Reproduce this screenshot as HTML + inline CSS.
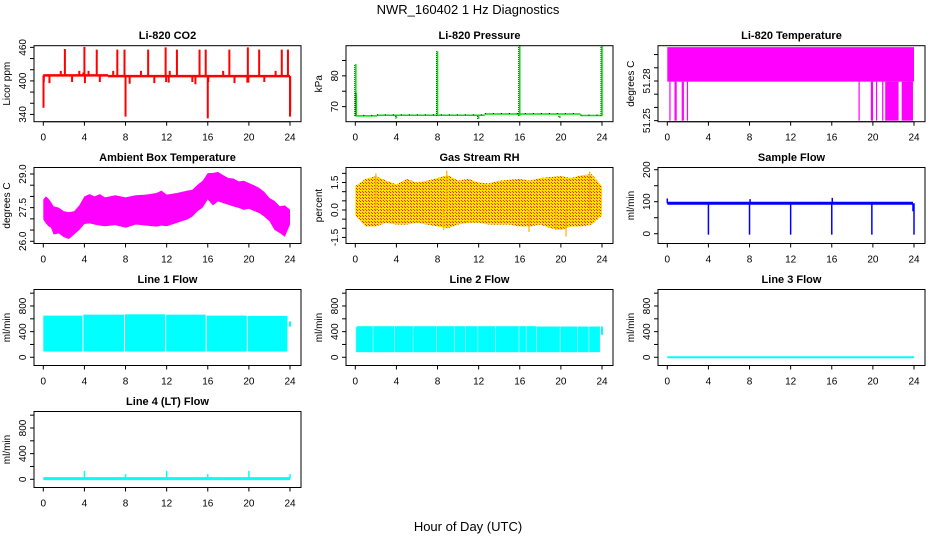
<!DOCTYPE html>
<html><head><meta charset="utf-8"><style>
html,body{margin:0;padding:0;background:#fff;}
svg{display:block;font-family:"Liberation Sans",sans-serif;}
</style></head><body>
<svg id="chart" width="936" height="540" viewBox="0 0 936 540" xmlns="http://www.w3.org/2000/svg">
<defs>
<pattern id="rhpat" width="3" height="3" patternUnits="userSpaceOnUse">
<rect width="3" height="3" fill="#ffe000"/><rect x="0" y="0" width="1" height="1" fill="#ff2000"/><rect x="2" y="2" width="1" height="1" fill="#ff3000"/>
</pattern>
</defs>
<text x="468" y="14" font-size="13" text-anchor="middle">NWR_160402 1 Hz Diagnostics</text>
<text x="468" y="531" font-size="13" text-anchor="middle">Hour of Day (UTC)</text>
</svg>
<script>
// ---- data ----
const hourTicks = [0,4,8,12,16,20,24];
// CO2
const co2BaseStart = [0, 6.3];
const co2BaseEnd = [6.3, 24];
const co2BaseVal = [410, 408.5];
const co2SpikeT = [0.02,0.05,2.1,4.0,3.9,5.2,7.2,7.9,8.0,10.2,11.9,11.95,13.0,15.2,15.8,16.0,16.05,18.1,19.9,19.85,21.0,23.2,23.8,24.0,24.02,1.7,2.8,3.5,4.4,5.5,6.8,9.5,10.8,12.3,14.5,17.5,18.6,21.5,22.6,0.6,4.05,8.4,12.2,14.8,19.95];
const co2SpikeV = [352,398,457,461,415,456,456,456,336,456,460,398,456,456,456,333,398,456,460,397,456,456,456,336,345,418,398,418,418,398,418,418,396,418,398,418,396,398,418,396,396,395,397,394,397];
// Pressure
const presBaseStart = [0, 2.1, 12.6, 21.9];
const presBaseEnd = [2.1, 12.6, 21.9, 24];
const presBaseVal = [67.0, 67.2, 67.6, 67.1];
const presSpikeT = [0.05,0.1,8.0,16.0,24.0,4.0,12.0,19.9];
const presSpikeV = [83.8,74.5,88.0,89.8,89.8,66.2,66.0,66.3];
// Li-820 temperature
const tempLow = 51.2795, tempHigh = 51.3056;
const tempDipStart = [0.2,0.7,0.8,1.4,1.5,1.9,18.6,19.8,19.9,20.3,20.9,21.2,22.8];
const tempDipEnd = [0.25,0.75,0.85,1.45,1.55,1.95,18.65,19.85,19.95,20.35,20.95,22.5,23.9];
const tempDipVal = 51.25;
// Ambient box temperature
const ambT = [0,0.25,0.5,0.75,1,1.5,2,2.5,3,3.5,4,4.5,5,5.5,6,7,8,9,10,11,11.5,12,13,14,14.5,15,15.5,16,16.5,17,17.5,18,18.5,19,19.5,20,20.5,21,21.5,22,22.5,23,23.5,24];
const ambHigh = [27.86,28.0,27.9,27.75,27.56,27.5,27.34,27.3,27.34,27.6,28.0,28.1,28.0,28.1,27.96,28.05,27.96,28.05,28.08,28.15,28.26,28.08,28.15,28.26,28.3,28.52,28.7,29.04,29.05,29.09,28.95,28.82,28.8,28.67,28.7,28.6,28.5,28.38,28.2,27.93,27.8,27.56,27.6,27.41];
const ambLow = [26.97,26.8,26.67,26.6,26.3,26.35,26.18,26.1,26.3,26.5,26.77,26.8,26.74,26.7,26.67,26.72,26.6,26.75,26.7,26.65,26.7,26.67,26.82,26.97,27.1,27.34,27.5,27.86,27.6,27.78,27.7,27.63,27.55,27.49,27.4,27.45,27.35,27.26,27.1,26.89,26.5,26.37,26.2,26.74];
// Gas stream RH
const rhT = [0,1,2,3,4,5,6,7,8,9,10,11,12,13,14,15,16,17,18,19,20,21,22,23,24];
const rhHigh = [1.3,1.7,1.85,1.6,1.4,1.7,1.5,1.6,1.75,1.9,1.6,1.7,1.5,1.45,1.6,1.65,1.7,1.6,1.75,1.8,1.85,1.75,1.9,1.95,1.3];
const rhLow = [-0.3,-0.9,-0.9,-0.7,-0.8,-0.8,-0.7,-0.8,-0.9,-1.0,-0.8,-0.7,-0.7,-0.8,-0.8,-0.8,-0.9,-0.9,-0.8,-1.0,-1.1,-0.9,-0.9,-0.8,-0.3];
const rhSpikeT = [2.0,8.9,22.8,20.5,16.9,8.6,19.5];
const rhSpikeV = [2.0,2.15,2.1,-1.45,-1.2,-1.1,-1.1];
// Sample flow
const sfBase = 95;
const sfSpikeT = [0.0,4.0,8.0,12.0,16.0,19.9,23.9,24.0,8.05,16.05];
const sfSpikeV = [110,-3,-3,-3,-3,-3,70,-3,108,112];
// Line 1 flow
const l1SegStart = [0.0,3.9,7.95,11.95,15.9,19.9];
const l1SegEnd = [3.8,7.85,11.85,15.8,19.8,23.75];
const l1High = [650,665,670,665,650,645];
const l1Low = [90,90,90,90,90,90];
const l1Stub = [24.0, 480, 560];
// Line 2 flow
const l2SegStart = [0.05,0.15,1.75,3.85,5.65,7.95,9.65,10.75,11.95,13.65,15.95,16.65,17.65,19.95,21.65,22.75];
const l2SegEnd = [0.1,1.7,3.8,5.6,7.9,9.6,10.7,11.9,13.6,15.9,16.6,17.6,19.9,21.6,22.7,23.8];
const l2High = [470,485,485,485,485,485,485,485,485,485,485,485,480,480,480,480];
const l2Low = [80,80,80,80,80,80,80,80,80,80,80,80,80,80,80,80];
const l2Stub = [24.0, 350, 480];
// Line 3 flow
const l3Val = 0;
// Line 4 flow
const l4Base = 10;
const l4SpikeT = [4.0,8.0,12.0,16.0,20.0,24.0];
const l4SpikeV = [130,80,130,80,130,80];

// ---- layout ----
const NS = "http://www.w3.org/2000/svg";
const svg = document.getElementById('chart');
const colLeft = [34,346,658], boxW = 267, rowTop = [45.7,167.5,289.5,411.5], boxH = 76;
function el(tag, attrs, parent){ const e=document.createElementNS(NS,tag); for(const k in attrs) e.setAttribute(k,attrs[k]); (parent||svg).appendChild(e); return e; }

function panel(c, r, name, title, ylab, ymin, ymax, ticks, labels){
  const L=colLeft[c], T=rowTop[r];
  const g = el('g',{});
  
  
  const x = t => L + 9.3 + t*(246.7/24);
  const y = v => T + (ymax - v)/(ymax - ymin)*boxH;
  const clip = el('clipPath',{id:'clip-'+name}, g);
  el('rect',{x:L,y:T,width:boxW,height:boxH},clip);
  const plot = el('g',{'clip-path':'url(#clip-'+name+')'}, g);
  
  
  const box = el('rect',{x:L,y:T,width:boxW,height:boxH,fill:'none',stroke:'#000','stroke-width':1}, g);
  
  
  const t1 = el('text',{x:L+boxW/2,y:T-6.5,'font-size':11,'font-weight':'bold','text-anchor':'middle'}, g);
  t1.textContent = title;
  
  
  const xa = el('g',{}, g);
  
  
  el('line',{x1:x(0),x2:x(24),y1:T+boxH,y2:T+boxH,stroke:'#000'}, xa);
  hourTicks.forEach(h=>{
    el('line',{x1:x(h),x2:x(h),y1:T+boxH,y2:T+boxH+4,stroke:'#000'}, xa);
    const tx = el('text',{x:x(h),y:T+boxH+19,'font-size':10,'text-anchor':'middle'}, xa);
    tx.textContent = h;
    
    
  });
  const ya = el('g',{}, g);
  
  
  ticks.forEach(v=>{ el('line',{x1:L-4,x2:L,y1:y(v),y2:y(v),stroke:'#000'}, ya); });
  labels.forEach(v=>{
    const yy=y(parseFloat(v));
    const tx = el('text',{x:L-8,y:yy,'font-size':10,'text-anchor':'middle',transform:'rotate(-90 '+(L-8)+' '+yy+')'}, ya);
    tx.textContent = v;
    
    
  });
  const yl = el('text',{x:L-24,y:T+boxH/2,'font-size':10,'text-anchor':'middle',transform:'rotate(-90 '+(L-24)+' '+(T+boxH/2)+')'}, g);
  yl.textContent = ylab;
  
  
  return {plot, x, y};
}
function range(a,b,s){ const o=[]; for(let v=a; v<=b+1e-9; v+=s) o.push(+v.toFixed(4)); return o; }

// CO2
(function(){
  const p = panel(0,0,'co2','Li-820 CO2','Licor ppm',327,463,range(340,460,20),['340','400','460']);
  co2BaseStart.forEach((s,i)=>{
    const ln = el('line',{x1:p.x(s),x2:p.x(co2BaseEnd[i]),y1:p.y(co2BaseVal[i]),y2:p.y(co2BaseVal[i]),stroke:'#f00','stroke-width':2.5}, p.plot);
    
    
  });
  co2SpikeT.forEach((t,i)=>{
    const b = t<6.3?co2BaseVal[0]:co2BaseVal[1];
    const ln = el('line',{x1:p.x(t),x2:p.x(t),y1:p.y(b),y2:p.y(co2SpikeV[i]),stroke:'#f00','stroke-width':2}, p.plot);
    
    
  });
})();
// Pressure
(function(){
  const p = panel(1,0,'pressure','Li-820 Pressure','kPa',65.1,89.8,range(70,85,5),['70','80']);
  presBaseStart.forEach((s,i)=>{
    const ln = el('line',{x1:p.x(s),x2:p.x(presBaseEnd[i]),y1:p.y(presBaseVal[i]),y2:p.y(presBaseVal[i]),stroke:'#0d0','stroke-width':1.5}, p.plot);
    
    
    const dl = el('line',{x1:p.x(s),x2:p.x(presBaseEnd[i]),y1:p.y(presBaseVal[i])-0.5,y2:p.y(presBaseVal[i])-0.5,stroke:'#000','stroke-width':1,'stroke-dasharray':'1 7'}, p.plot);
    
    
  });
  presSpikeT.forEach((t,i)=>{
    const b = presBaseVal[0];
    const d = el('line',{x1:p.x(t)-1,x2:p.x(t)-1,y1:p.y(b),y2:p.y(presSpikeV[i]),stroke:'#000','stroke-width':1,'stroke-dasharray':'1 1'}, p.plot);
    
    
    const ln = el('line',{x1:p.x(t),x2:p.x(t),y1:p.y(b),y2:p.y(presSpikeV[i]),stroke:'#0d0','stroke-width':1.5}, p.plot);
    
    
  });
})();
// Li-820 temperature
(function(){
  const p = panel(2,0,'li820-temp','Li-820 Temperature','degrees C',51.2492,51.3067,range(51.25,51.30,0.01),['51.25','51.28']);
  const r = el('rect',{x:p.x(0),y:p.y(tempHigh),width:p.x(24)-p.x(0),height:p.y(tempLow)-p.y(tempHigh),fill:'#f0f'}, p.plot);
  
  
  tempDipStart.forEach((s,i)=>{
    const d = el('rect',{x:p.x(s),y:p.y(tempLow),width:Math.max(1.2,p.x(tempDipEnd[i])-p.x(s)),height:p.y(tempDipVal)-p.y(tempLow),fill:'#f0f'}, p.plot);
    
    
  });
})();
function band(p, T, hi, lo, fill, name){
  let pts = T.map((t,i)=>p.x(t)+','+p.y(hi[i]));
  pts = pts.concat(T.map((t,i)=>p.x(t)+','+p.y(lo[i])).reverse());
  const pg = el('polygon',{points:pts.join(' '),fill:fill}, p.plot);
  
  
}
// Ambient
(function(){
  const p = panel(0,1,'ambient-temp','Ambient Box Temperature','degrees C',25.90,29.29,range(26,29,0.5),['26.0','27.5','29.0']);
  band(p, ambT, ambHigh, ambLow, '#f0f', 'ambient-band');
})();
// RH
(function(){
  const p = panel(1,1,'gas-rh','Gas Stream RH','percent',-1.83,2.32,range(-1.5,2.0,0.5),['-1.5','0.0','1.5']);
  band(p, rhT, rhHigh, rhLow, 'url(#rhpat)', 'rh-band');
  rhSpikeT.forEach((t,i)=>{
    const ln = el('line',{x1:p.x(t),x2:p.x(t),y1:p.y(0),y2:p.y(rhSpikeV[i]),stroke:'#ffb000','stroke-width':1.2}, p.plot);
    
    
  });
})();
// Sample flow
(function(){
  const p = panel(2,1,'sample-flow','Sample Flow','ml/min',-30.6,206.9,range(0,200,50),['0','100','200']);
  const ln = el('line',{x1:p.x(0),x2:p.x(23.9),y1:p.y(sfBase),y2:p.y(sfBase),stroke:'#00f','stroke-width':3}, p.plot);
  
  
  sfSpikeT.forEach((t,i)=>{
    const s = el('line',{x1:p.x(t),x2:p.x(t),y1:p.y(sfBase),y2:p.y(sfSpikeV[i]),stroke:'#00f','stroke-width':1.5}, p.plot);
    
    
  });
})();
function segs(p, S, E, H, Lo, stub, name){
  S.forEach((s,i)=>{
    const r = el('rect',{x:p.x(s),y:p.y(H[i]),width:Math.max(1,p.x(E[i])-p.x(s)),height:p.y(Lo[i])-p.y(H[i]),fill:'#0ff'}, p.plot);
    
    
  });
  const st = el('rect',{x:p.x(stub[0])-1,y:p.y(stub[2]),width:2,height:p.y(stub[1])-p.y(stub[2]),fill:'#0ff'}, p.plot);
  
  
}
const flowTicks = range(0,1000,200), flowLabels=['0','400','800'];
(function(){
  const p = panel(0,2,'line1-flow','Line 1 Flow','ml/min',-128,1057,flowTicks,flowLabels);
  segs(p, l1SegStart, l1SegEnd, l1High, l1Low, l1Stub, 'line1');
})();
(function(){
  const p = panel(1,2,'line2-flow','Line 2 Flow','ml/min',-128,1057,flowTicks,flowLabels);
  segs(p, l2SegStart, l2SegEnd, l2High, l2Low, l2Stub, 'line2');
})();
(function(){
  const p = panel(2,2,'line3-flow','Line 3 Flow','ml/min',-128,1057,flowTicks,flowLabels);
  const ln = el('line',{x1:p.x(0),x2:p.x(24),y1:p.y(l3Val),y2:p.y(l3Val),stroke:'#0ff','stroke-width':2}, p.plot);
  
  
})();
(function(){
  const p = panel(0,3,'line4-flow','Line 4 (LT) Flow','ml/min',-128,1057,flowTicks,flowLabels);
  const ln = el('line',{x1:p.x(0),x2:p.x(24),y1:p.y(l4Base),y2:p.y(l4Base),stroke:'#0ff','stroke-width':3}, p.plot);
  
  
  l4SpikeT.forEach((t,i)=>{
    const s = el('line',{x1:p.x(t),x2:p.x(t),y1:p.y(l4Base),y2:p.y(l4SpikeV[i]),stroke:'#0ff','stroke-width':1.5}, p.plot);
    
    
  });
})();
</script>
</body></html>
